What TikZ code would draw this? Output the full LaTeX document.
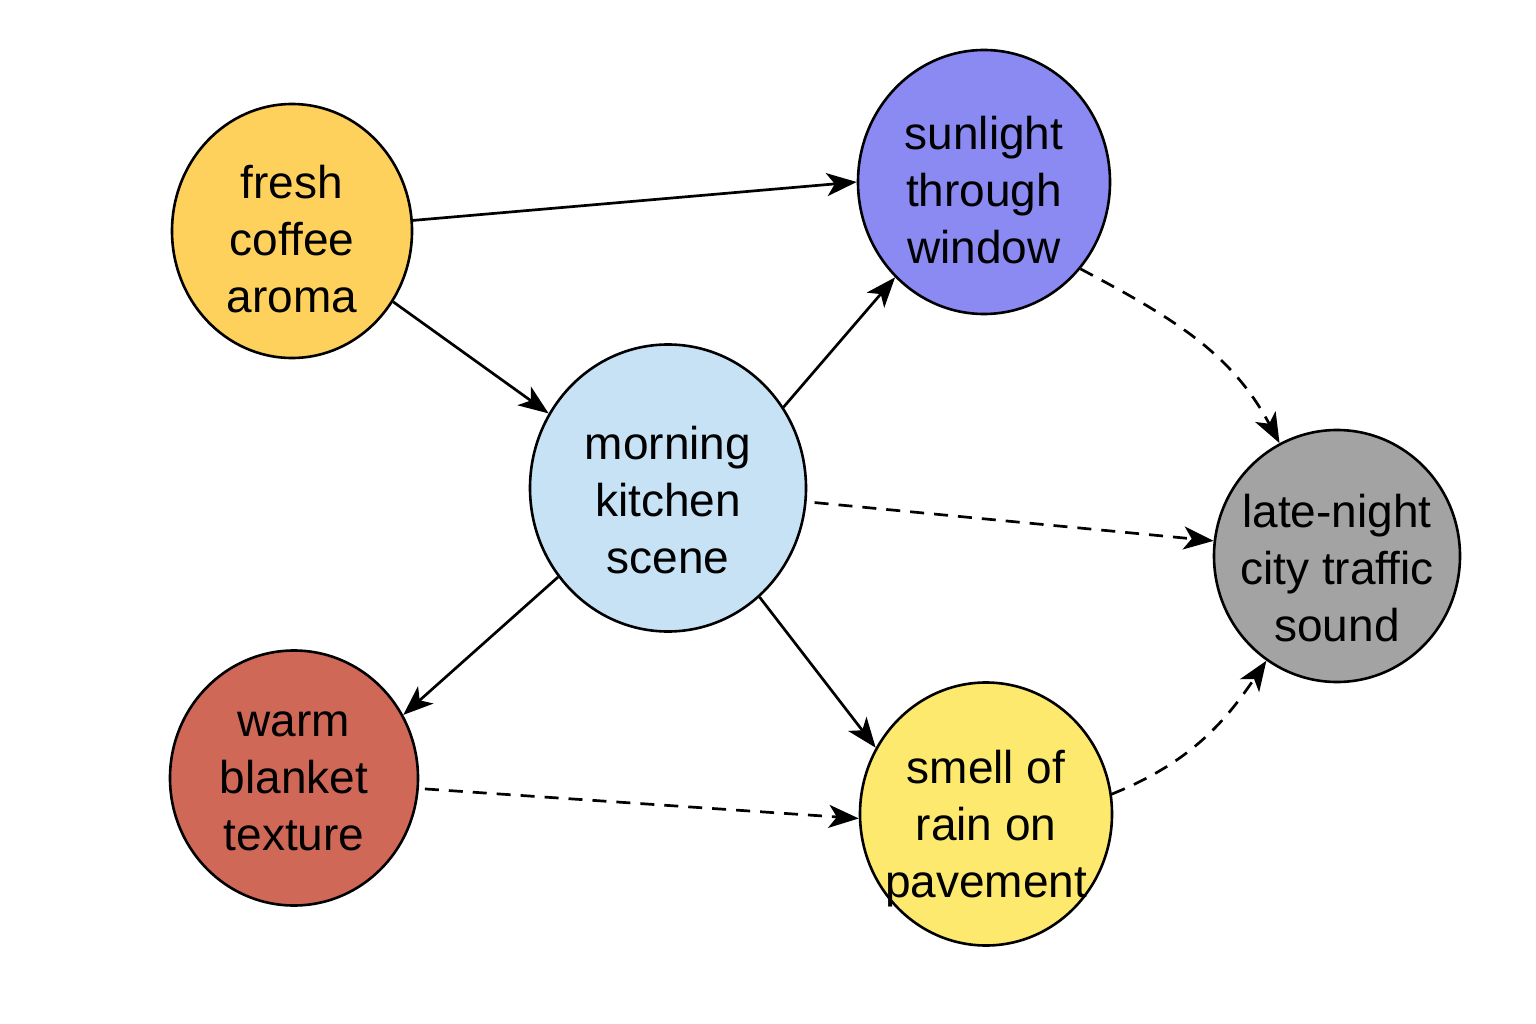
\documentclass[tikz,border=0pt]{standalone}
\usepackage{fontspec}
\setmainfont{Liberation Sans}
\usetikzlibrary{arrows.meta,shapes.geometric}
\definecolor{ccoffee}{HTML}{FDD15C}
\definecolor{csun}{HTML}{8A8AF2}
\definecolor{ckitchen}{HTML}{C6E2F4}
\definecolor{ctraffic}{HTML}{A3A3A3}
\definecolor{cblanket}{HTML}{D06858}
\definecolor{crain}{HTML}{FDE96E}
\tikzset{
  bubble/.style={ellipse, draw=black, line width=2.6pt, inner sep=0pt},
  bubbletext/.style={align=center, inner sep=0pt, yshift=-8pt,
    font=\fontsize{46}{57}\selectfont},
  solidarrow/.style={line width=2.7pt, -{Stealth[length=30pt,width=23pt,inset=8pt]}},
  dasharrow/.style={solidarrow, dash pattern=on 14pt off 10pt},
}
\begin{document}
\begin{tikzpicture}[x=1pt,y=-1pt]
\useasboundingbox (0,0) rectangle (1536,1024);
\node[bubble, fill=ccoffee, minimum width=240pt, minimum height=254pt,
  label={[bubbletext]center:fresh\\coffee\\aroma}] (coffee) at (292,231) {};
\node[bubble, fill=csun, minimum width=252pt, minimum height=264pt,
  label={[bubbletext]center:sunlight\\through\\window}] (sun) at (984,182) {};
\node[bubble, fill=ckitchen, minimum width=276pt, minimum height=287pt,
  label={[bubbletext, yshift=-4pt]center:morning\\kitchen\\scene}] (kitchen) at (668,488) {};
\node[bubble, fill=ctraffic, minimum width=246pt, minimum height=252pt,
  label={[bubbletext, yshift=-4pt]center:late-night\\city traffic\\sound}] (traffic) at (1337,556) {};
\node[bubble, fill=cblanket, minimum width=248pt, minimum height=255pt,
  label={[bubbletext, yshift=5pt]center:warm\\blanket\\texture}] (blanket) at (294,778) {};
\node[bubble, fill=crain, minimum width=252pt, minimum height=263pt,
  label={[bubbletext, yshift=-7pt]center:smell of\\rain on\\pavement}] (rain) at (986,814) {};

\draw[solidarrow] (coffee.5) -- (sun.180);
\draw[solidarrow] (coffee.-35) -- (kitchen.148);
\draw[solidarrow] (kitchen.35) -- (sun.227);
\draw[solidarrow] (kitchen.219) -- (blanket.30);
\draw[solidarrow] (kitchen.-50) -- (rain.149);
\draw[dasharrow] ([xshift=8pt]kitchen.-6) -- (traffic.173);
\draw[dasharrow] (sun.-42) to[out=-28,in=118] (traffic.117);
\draw[dasharrow] ([xshift=6pt]blanket.-5) -- (rain.182);
\draw[dasharrow] (rain.9) to[out=22,in=236] (traffic.236);
\end{tikzpicture}
\end{document}
